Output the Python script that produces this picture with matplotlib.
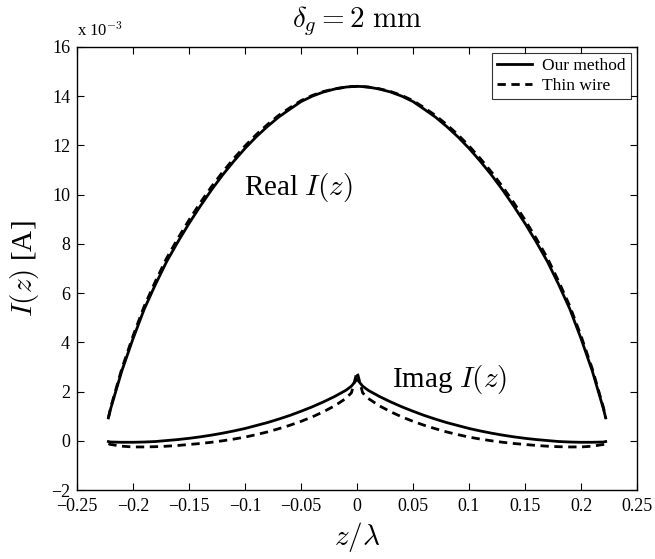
import numpy as np
import matplotlib
matplotlib.use("Agg")
import matplotlib.pyplot as plt

plt.rcParams['font.family'] = ['Liberation Serif', 'DejaVu Serif']
plt.rcParams['mathtext.fontset'] = 'cm'

# half-dipole positions (z/lambda), mirrored about 0
z_half = [0.0, 0.005, 0.01, 0.02, 0.03, 0.04, 0.05, 0.06, 0.07, 0.08, 0.09, 0.10,
          0.11, 0.12, 0.13, 0.14, 0.15, 0.16, 0.17, 0.18, 0.19, 0.20, 0.21, 0.22, 0.222]

# values in units of 1e-3 A
real_ours = [14.40, 14.39, 14.37, 14.29, 14.17, 14.00, 13.78, 13.47, 13.15, 12.77, 12.35, 11.88,
             11.36, 10.80, 10.19, 9.53, 8.83, 8.08, 7.28, 6.35, 5.35, 4.15, 2.84, 1.30, 0.93]
real_thin = [14.40, 14.39, 14.37, 14.30, 14.19, 14.03, 13.82, 13.53, 13.22, 12.85, 12.44, 11.98,
             11.47, 10.92, 10.32, 9.67, 8.97, 8.22, 7.42, 6.48, 5.47, 4.26, 2.93, 1.35, 0.93]
imag_ours = [2.50, 2.22, 2.05, 1.80, 1.58, 1.38, 1.20, 1.03, 0.88, 0.74, 0.62, 0.50,
             0.40, 0.31, 0.23, 0.16, 0.10, 0.05, 0.01, -0.03, -0.05, -0.06, -0.06, -0.05, -0.03]
imag_thin = [2.80, 1.95, 1.72, 1.42, 1.18, 0.97, 0.79, 0.63, 0.49, 0.36, 0.25, 0.15,
             0.07, 0.00, -0.06, -0.11, -0.15, -0.19, -0.22, -0.24, -0.25, -0.25, -0.22, -0.15, -0.12]

xtick_labels = ['\u22120.25', '\u22120.2', '\u22120.15', '\u22120.1', '\u22120.05', '0',
                '0.05', '0.1', '0.15', '0.2', '0.25']
ytick_labels = ['\u22122', '0', '2', '4', '6', '8', '10', '12', '14', '16']


def mirror(zh, vh):
    z = [-v for v in zh[::-1]] + zh[1:]
    v = vh[::-1] + vh[1:]
    return np.array(z), np.array(v)


fig = plt.figure(figsize=(6.55, 5.59), dpi=100)
ax = fig.add_axes([0.1176, 0.1234, 0.855, 0.7926])

z, r1 = mirror(z_half, real_ours)
_, r2 = mirror(z_half, real_thin)
_, i1 = mirror(z_half, imag_ours)
_, i2 = mirror(z_half, imag_thin)

ax.plot(z, r1, color='black', lw=2.0, label='Our method')
ax.plot(z, r2, color='black', lw=2.0, ls=(0, (3, 2)), label='Thin wire')
ax.plot(z, i1, color='black', lw=2.0)
ax.plot(z, i2, color='black', lw=2.0, ls=(0, (3, 2)))

ax.set_xlim(-0.25, 0.25)
ax.set_ylim(-2, 16)
ax.set_xticks(np.arange(-0.25, 0.2501, 0.05))
ax.set_xticklabels(xtick_labels)
ax.set_yticks(np.arange(-2, 16.01, 2))
ax.set_yticklabels(ytick_labels)
ax.tick_params(direction='in', top=True, right=True, length=5, width=0.8,
               labelsize=13)
ax.tick_params(axis='x', pad=6)
ax.tick_params(axis='y', pad=5)
for s in ax.spines.values():
    s.set_linewidth(1.0)

ax.text(-0.25, 16.3, 'x 10$^{-3}$', fontsize=12, ha='left', va='bottom')
ax.set_title(r'$\delta_g = 2\ \mathrm{mm}$', fontsize=21, pad=14)
ax.set_xlabel(r'$z/\lambda$', fontsize=21, labelpad=3)
ax.set_ylabel(r'$I(z)$ [A]', fontsize=21, labelpad=7)

ax.text(-0.101, 10.3, r'Real $I(z)$', fontsize=21, ha='left', va='center')
ax.text(0.031, 2.5, r'Imag $I(z)$', fontsize=21, ha='left', va='center')

leg = ax.legend(loc='upper right', fontsize=12.5, handlelength=2.0, frameon=True,
                fancybox=False, edgecolor='black', borderaxespad=0.35,
                borderpad=0.3, labelspacing=0.2, handletextpad=0.6)
leg.get_frame().set_linewidth(0.8)

fig.savefig('out.png', dpi=100)
